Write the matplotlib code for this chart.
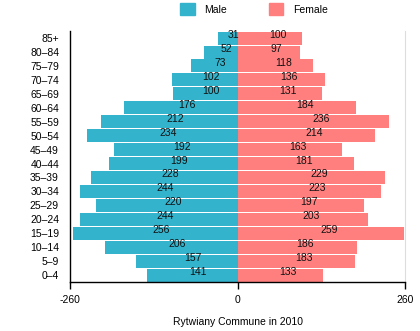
import matplotlib
matplotlib.use('Agg')
from matplotlib import pyplot as plt
from matplotlib.patches import Patch

ages = ['0–4', '5–9', '10–14', '15–19', '20–24', '25–29', '30–34', '35–39', '40–44',
        '45–49', '50–54', '55–59', '60–64', '65–69', '70–74', '75–79', '80–84', '85+']
male = [141, 157, 206, 256, 244, 220, 244, 228, 199, 192, 234, 212, 176, 100, 102, 73, 52, 31]
female = [133, 183, 186, 259, 203, 197, 223, 229, 181, 163, 214, 236, 184, 131, 136, 118, 97, 100]
xticks = [-260, 0, 260]

maleColor = '#33b3cc'
femaleColor = '#ff7f7f'

plt.rcParams['font.family'] = ['Liberation Sans', 'DejaVu Sans']

fig = plt.figure(figsize=(4.2, 3.31), dpi=100)
ax = fig.add_axes([0.167, 0.148, 0.797, 0.758])

y = list(range(len(ages)))
ax.barh(y, [-m for m in male], height=0.93, color=maleColor, zorder=2)
ax.barh(y, female, height=0.93, color=femaleColor, zorder=2)

for i in y:
    ax.annotate(str(male[i]), (-male[i] / 2, i), xytext=(6, 3), textcoords='offset pixels',
                ha='center', va='center', fontsize=7.5, color='#111111', zorder=3)
    ax.annotate(str(female[i]), (female[i] / 2, i), xytext=(8, 3), textcoords='offset pixels',
                ha='center', va='center', fontsize=7.5, color='#111111', zorder=3)

ax.set_xlim(-260, 260)
ax.set_ylim(-0.5, len(ages) - 0.5)
ax.set_yticks(y)
ax.set_yticklabels(ages, fontsize=7.5)
ax.set_xticks(xticks)
ax.set_xticklabels([str(t) for t in xticks], fontsize=7.5)
ax.tick_params(axis='y', length=0, pad=8)
ax.tick_params(axis='x', length=5, width=1, pad=4)

ax.spines['top'].set_visible(False)
ax.spines['right'].set_color('#dddddd')
ax.spines['left'].set_linewidth(1)
ax.spines['bottom'].set_linewidth(1)

ax.set_xlabel('Rytwiany Commune in 2010', fontsize=7.5, labelpad=9)

handles = [Patch(color=maleColor, label='Male'), Patch(color=femaleColor, label='Female')]
fig.legend(handles=handles, loc='upper center', bbox_to_anchor=(0.605, 1.018), ncol=2,
           frameon=False, fontsize=7.5, handlelength=1.4, handleheight=1.3,
           columnspacing=4, handletextpad=0.9)

plt.savefig('out.png', dpi=100)
